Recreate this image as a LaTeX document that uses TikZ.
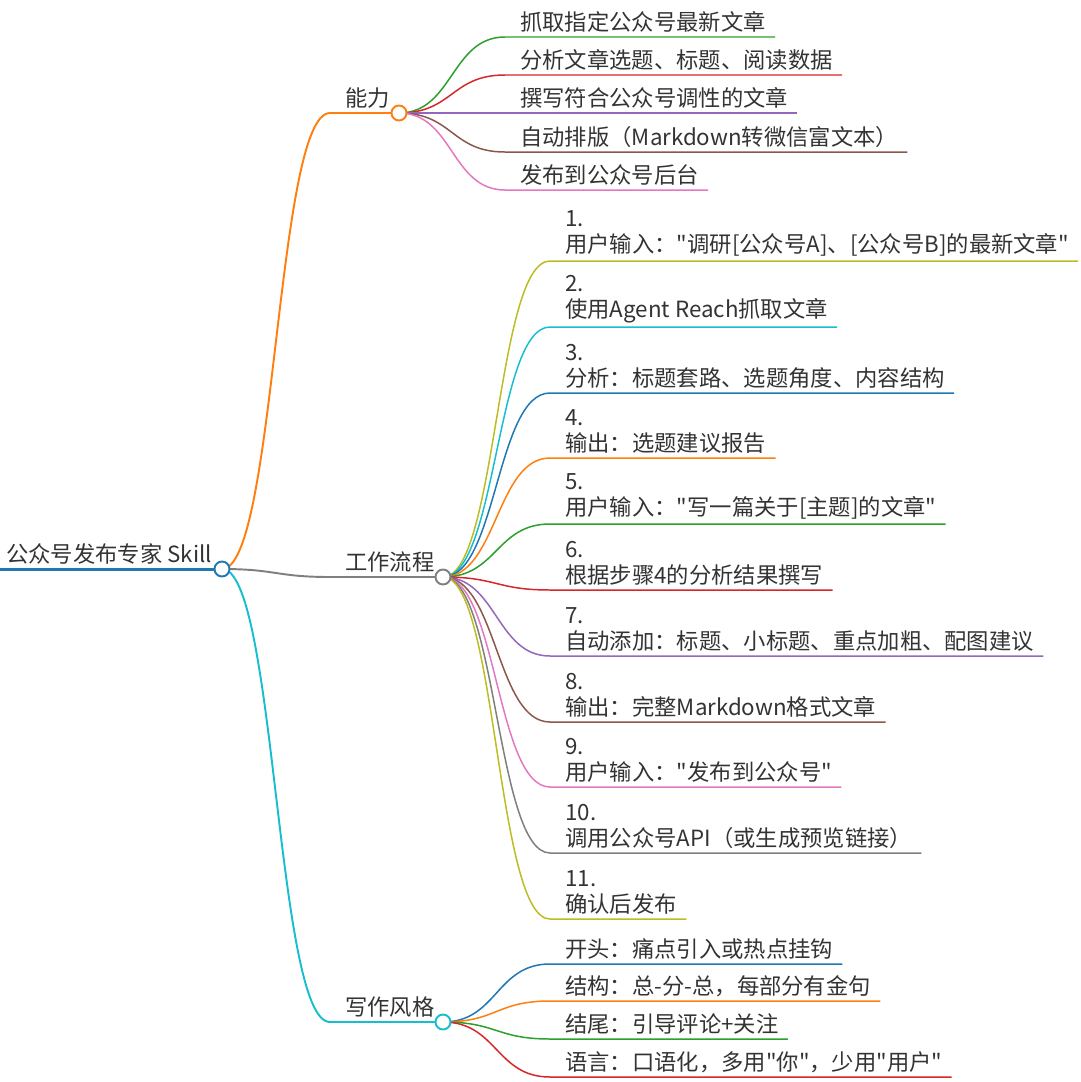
\documentclass[tikz,border=0pt]{standalone}
\usepackage{fontspec}
\newfontfamily\mmfont{Noto Sans CJK SC}
\usepackage{xcolor}
\usetikzlibrary{positioning}

\definecolor{mmblue}{HTML}{1F77B4}
\definecolor{mmorange}{HTML}{FF7F0E}
\definecolor{mmgreen}{HTML}{2CA02C}
\definecolor{mmred}{HTML}{D62728}
\definecolor{mmpurple}{HTML}{9467BD}
\definecolor{mmbrown}{HTML}{8C564B}
\definecolor{mmpink}{HTML}{E377C2}
\definecolor{mmgray}{HTML}{7F7F7F}
\definecolor{mmolive}{HTML}{BCBD22}
\definecolor{mmcyan}{HTML}{17BECF}

\begin{document}
\begin{tikzpicture}[
    x=0.02cm, y={(0cm,-0.02cm)},
    font=\mmfont\fontsize{12.7pt}{14.8pt}\selectfont,
    txt/.style={anchor=south west,inner sep=0pt,align=left,text=black!80},
    dot/.style={circle,draw,fill=white,minimum size=0.3cm,inner sep=0pt,line width=1.1pt},
    link/.style={out=0,in=180,distance=1.08cm},
    trunk/.style={line width=1.7pt},
    bough/.style={line width=1.1pt},
    twig/.style={line width=0.85pt}
]
    \useasboundingbox (0,0) rectangle (1080,1082);

    % Hubs
    \coordinate (rootin) at (0,569);
    \coordinate (root) at (222,569);
    \coordinate (abw) at (330,113);
    \coordinate (ab) at (399,113);
    \coordinate (floww) at (330,577);
    \coordinate (flow) at (443,577);
    \coordinate (styw) at (330,1022);
    \coordinate (sty) at (443,1022);

    % Hub texts
    \node[txt] (roott) at (6,565) {公众号发布专家 Skill};
    \node[txt] (abt) at (345,109) {能力};
    \node[txt] (flowt) at (345,573) {工作流程};
    \node[txt] (styt) at (345,1018) {写作风格};

    % Trunk and boughs
    \draw[trunk,mmblue] (rootin) -- (root);
    \draw[bough,mmorange] (root) to[link] (abw) -- (ab);
    \draw[bough,mmgray] (root) to[link] (floww) -- (flow);
    \draw[bough,mmcyan] (root) to[link] (styw) -- (sty);

    % Abilities
    \coordinate (a1) at (505,37);
    \node[txt] (a1t) at (520,33) {抓取指定公众号最新文章};
    \coordinate (a2) at (505,75);
    \node[txt] (a2t) at (520,71) {分析文章选题、标题、阅读数据};
    \coordinate (a3) at (505,113);
    \node[txt] (a3t) at (520,109) {撰写符合公众号调性的文章};
    \coordinate (a4) at (505,152);
    \node[txt] (a4t) at (520,148) {自动排版（Markdown转微信富文本）};
    \coordinate (a5) at (505,190);
    \node[txt] (a5t) at (520,186) {发布到公众号后台};

    \draw[twig,mmgreen] (ab) to[link] (a1) -- (a1 -| a1t.east) -- ++(9,0);
    \draw[twig,mmred] (ab) to[link] (a2) -- (a2 -| a2t.east) -- ++(9,0);
    \draw[twig,mmpurple] (ab) to[link] (a3) -- (a3 -| a3t.east) -- ++(9,0);
    \draw[twig,mmbrown] (ab) to[link] (a4) -- (a4 -| a4t.east) -- ++(9,0);
    \draw[twig,mmpink] (ab) to[link] (a5) -- (a5 -| a5t.east) -- ++(9,0);

    % Workflow steps
    \coordinate (f1) at (550,261);
    \node[txt] (f1t) at (565,257) {1.\\用户输入："调研[公众号A]、[公众号B]的最新文章"};
    \coordinate (f2) at (550,327);
    \node[txt] (f2t) at (565,323) {2.\\使用Agent Reach抓取文章};
    \coordinate (f3) at (550,393);
    \node[txt] (f3t) at (565,389) {3.\\分析：标题套路、选题角度、内容结构};
    \coordinate (f4) at (550,458);
    \node[txt] (f4t) at (565,454) {4.\\输出：选题建议报告};
    \coordinate (f5) at (550,524);
    \node[txt] (f5t) at (565,520) {5.\\用户输入："写一篇关于[主题]的文章"};
    \coordinate (f6) at (550,590);
    \node[txt] (f6t) at (565,586) {6.\\根据步骤4的分析结果撰写};
    \coordinate (f7) at (550,656);
    \node[txt] (f7t) at (565,652) {7.\\自动添加：标题、小标题、重点加粗、配图建议};
    \coordinate (f8) at (550,722);
    \node[txt] (f8t) at (565,718) {8.\\输出：完整Markdown格式文章};
    \coordinate (f9) at (550,787);
    \node[txt] (f9t) at (565,783) {9.\\用户输入："发布到公众号"};
    \coordinate (f10) at (550,853);
    \node[txt] (f10t) at (565,849) {10.\\调用公众号API（或生成预览链接）};
    \coordinate (f11) at (550,919);
    \node[txt] (f11t) at (565,915) {11.\\确认后发布};

    \draw[twig,mmolive] (flow) to[link] (f1) -- (f1 -| f1t.east) -- ++(9,0);
    \draw[twig,mmcyan] (flow) to[link] (f2) -- (f2 -| f2t.east) -- ++(9,0);
    \draw[twig,mmblue] (flow) to[link] (f3) -- (f3 -| f3t.east) -- ++(9,0);
    \draw[twig,mmorange] (flow) to[link] (f4) -- (f4 -| f4t.east) -- ++(9,0);
    \draw[twig,mmgreen] (flow) to[link] (f5) -- (f5 -| f5t.east) -- ++(9,0);
    \draw[twig,mmred] (flow) to[link] (f6) -- (f6 -| f6t.east) -- ++(9,0);
    \draw[twig,mmpurple] (flow) to[link] (f7) -- (f7 -| f7t.east) -- ++(9,0);
    \draw[twig,mmbrown] (flow) to[link] (f8) -- (f8 -| f8t.east) -- ++(9,0);
    \draw[twig,mmpink] (flow) to[link] (f9) -- (f9 -| f9t.east) -- ++(9,0);
    \draw[twig,mmgray] (flow) to[link] (f10) -- (f10 -| f10t.east) -- ++(9,0);
    \draw[twig,mmolive] (flow) to[link] (f11) -- (f11 -| f11t.east) -- ++(9,0);

    % Writing style
    \coordinate (s1) at (550,964);
    \node[txt] (s1t) at (565,960) {开头：痛点引入或热点挂钩};
    \coordinate (s2) at (550,1001);
    \node[txt] (s2t) at (565,997) {结构：总-分-总，每部分有金句};
    \coordinate (s3) at (550,1039);
    \node[txt] (s3t) at (565,1035) {结尾：引导评论+关注};
    \coordinate (s4) at (550,1077);
    \node[txt] (s4t) at (565,1073) {语言：口语化，多用"你"，少用"用户"};

    \draw[twig,mmblue] (sty) to[link] (s1) -- (s1 -| s1t.east) -- ++(9,0);
    \draw[twig,mmorange] (sty) to[link] (s2) -- (s2 -| s2t.east) -- ++(9,0);
    \draw[twig,mmgreen] (sty) to[link] (s3) -- (s3 -| s3t.east) -- ++(9,0);
    \draw[twig,mmred] (sty) to[link] (s4) -- (s4 -| s4t.east) -- ++(9,0);

    % Dots
    \node[dot,draw=mmblue] (rootdot) at (root) {};
    \node[dot,draw=mmorange] (abdot) at (ab) {};
    \node[dot,draw=mmgray] (flowdot) at (flow) {};
    \node[dot,draw=mmcyan] (stydot) at (sty) {};
\end{tikzpicture}
\end{document}
